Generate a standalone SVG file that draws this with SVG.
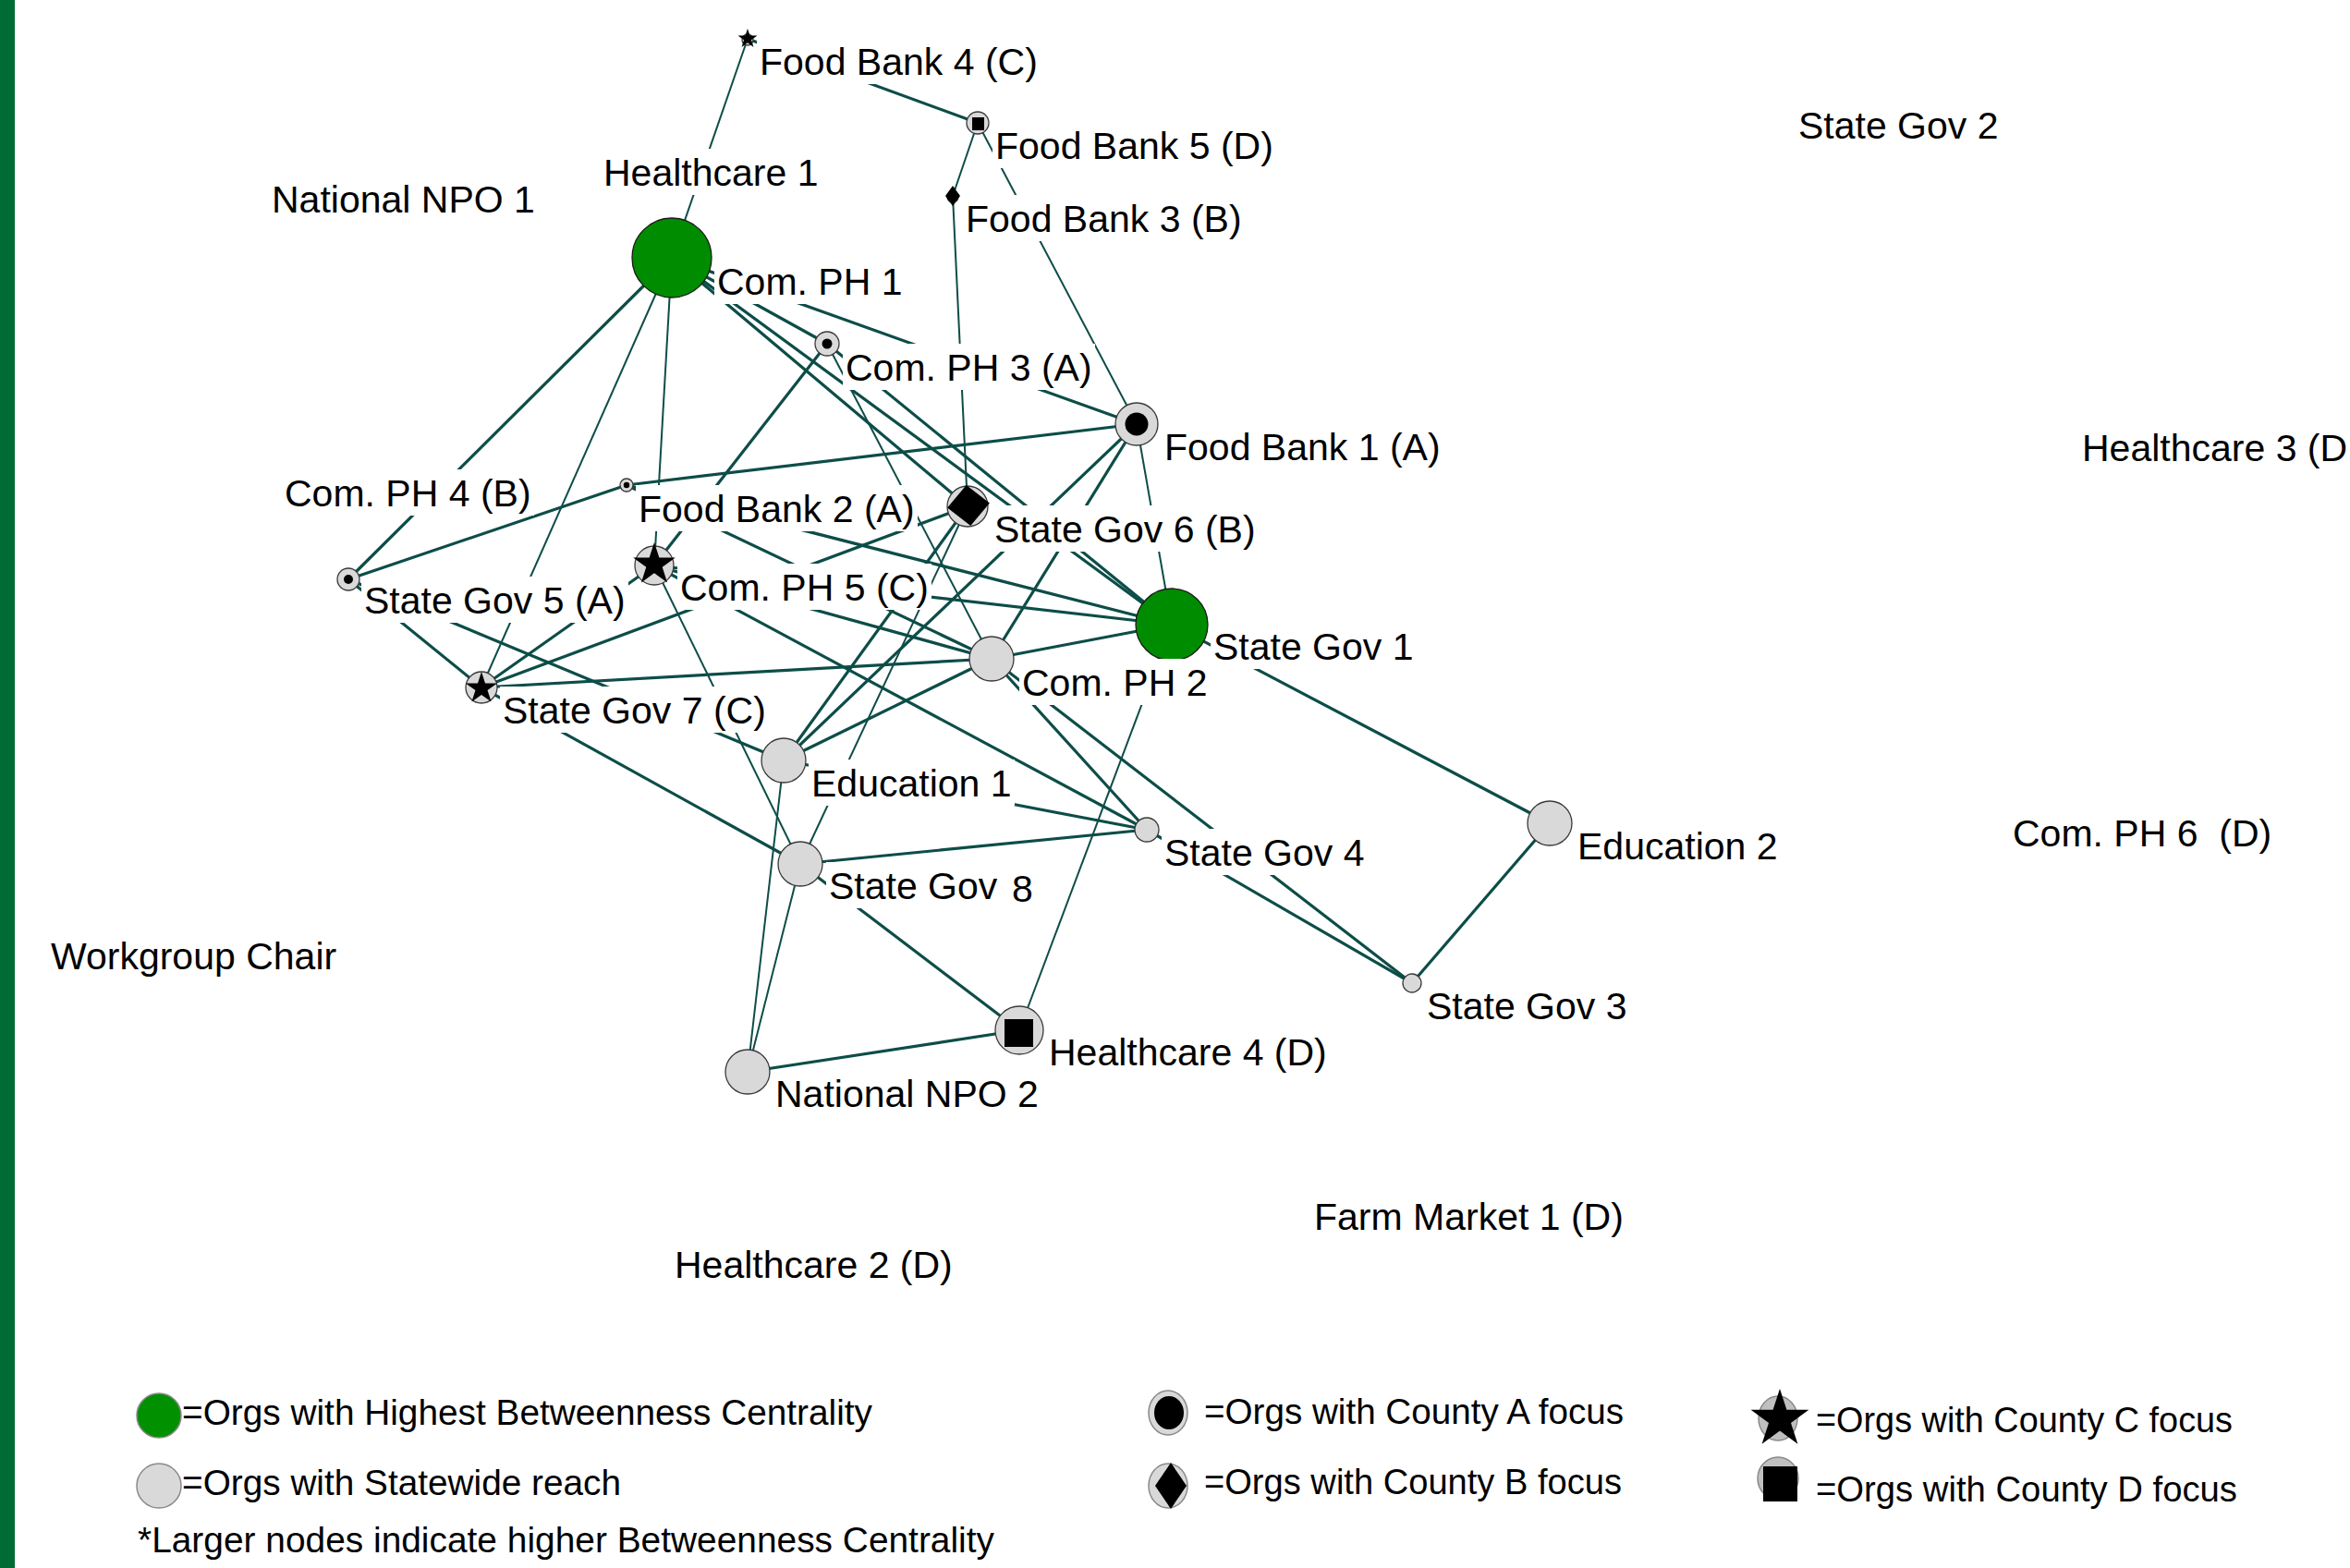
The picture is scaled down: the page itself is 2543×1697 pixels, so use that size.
<svg xmlns="http://www.w3.org/2000/svg" xmlns:xlink="http://www.w3.org/1999/xlink" width="2543" height="1697" viewBox="0 0 2543 1697">
<style>
.e{stroke:#0d4d48;stroke-width:3.2;fill:none;stroke-linecap:butt}
.n{stroke-width:2}
.lb{fill:#ffffff}
.t{font-family:"Liberation Sans",Arial,sans-serif;font-size:41px;fill:#000}
.g{fill:#d9d9d9;stroke:#3a3a3a;stroke-width:1.3}
.gr{fill:#008c00;stroke:#1a1a1a;stroke-width:1.3}
.k{fill:#000}
.lg{font-family:"Liberation Sans Narrow","Liberation Sans",Arial,sans-serif;font-size:38px;fill:#000}
.lgc{stroke:#8a8a8a;stroke-width:1.5}
</style>
<defs>
<path id="star" d="M0,-1 L0.2245,-0.309 L0.9511,-0.309 L0.3633,0.118 L0.5878,0.809 L0,0.382 L-0.5878,0.809 L-0.3633,0.118 L-0.9511,-0.309 L-0.2245,-0.309 Z"/>
<path id="dia" d="M0,-1 L1,0 L0,1 L-1,0 Z"/>
</defs>
<rect x="0" y="0" width="2543" height="1697" fill="#ffffff"/>
<rect x="0" y="0" width="16" height="1697" fill="#006b35"/>

<g id="connectors">
<line class="e n" x1="809" y1="42" x2="727" y2="279"/>
<line class="e" x1="809" y1="42" x2="1058" y2="133"/>
<line class="e n" x1="1058" y1="133" x2="1031" y2="212"/>
<line class="e n" x1="1058" y1="133" x2="1230" y2="459"/>
<line class="e n" x1="1031" y1="212" x2="1047" y2="548"/>
<line class="e" x1="727" y1="279" x2="1230" y2="459"/>
<line class="e" x1="727" y1="279" x2="895" y2="372"/>
<line class="e" x1="727" y1="279" x2="1047" y2="548"/>
<line class="e" x1="727" y1="279" x2="1268" y2="676"/>
<line class="e n" x1="727" y1="279" x2="708" y2="612"/>
<line class="e n" x1="727" y1="279" x2="521" y2="744"/>
<line class="e" x1="727" y1="279" x2="377" y2="627"/>
<line class="e" x1="895" y1="372" x2="1268" y2="676"/>
<line class="e n" x1="895" y1="372" x2="1073" y2="713"/>
<line class="e" x1="895" y1="372" x2="708" y2="612"/>
<line class="e" x1="678" y1="525" x2="1230" y2="459"/>
<line class="e" x1="678" y1="525" x2="377" y2="627"/>
<line class="e" x1="678" y1="525" x2="1073" y2="713"/>
<line class="e" x1="678" y1="525" x2="1268" y2="676"/>
<line class="e" x1="377" y1="627" x2="521" y2="744"/>
<line class="e" x1="377" y1="627" x2="848" y2="823"/>
<line class="e" x1="521" y1="744" x2="708" y2="612"/>
<line class="e" x1="521" y1="744" x2="1047" y2="548"/>
<line class="e" x1="521" y1="744" x2="1073" y2="713"/>
<line class="e" x1="521" y1="744" x2="866" y2="935"/>
<line class="e n" x1="708" y1="612" x2="866" y2="935"/>
<line class="e" x1="708" y1="612" x2="1268" y2="676"/>
<line class="e" x1="708" y1="612" x2="1073" y2="713"/>
<line class="e" x1="708" y1="612" x2="1241" y2="898"/>
<line class="e" x1="848" y1="823" x2="1047" y2="548"/>
<line class="e" x1="848" y1="823" x2="1230" y2="459"/>
<line class="e" x1="848" y1="823" x2="1073" y2="713"/>
<line class="e" x1="848" y1="823" x2="1241" y2="898"/>
<line class="e n" x1="848" y1="823" x2="809" y2="1160"/>
<line class="e n" x1="1047" y1="548" x2="866" y2="935"/>
<line class="e" x1="1230" y1="459" x2="1073" y2="713"/>
<line class="e n" x1="1230" y1="459" x2="1268" y2="676"/>
<line class="e" x1="1073" y1="713" x2="1268" y2="676"/>
<line class="e" x1="1073" y1="713" x2="1241" y2="898"/>
<line class="e" x1="1073" y1="713" x2="1528" y2="1064"/>
<line class="e n" x1="1268" y1="676" x2="1103" y2="1115"/>
<line class="e" x1="1268" y1="676" x2="1677" y2="891"/>
<line class="e" x1="866" y1="935" x2="1241" y2="898"/>
<line class="e n" x1="866" y1="935" x2="809" y2="1160"/>
<line class="e" x1="866" y1="935" x2="1103" y2="1115"/>
<line class="e" x1="1103" y1="1115" x2="809" y2="1160"/>
<line class="e" x1="1241" y1="898" x2="1528" y2="1064"/>
<line class="e" x1="1528" y1="1064" x2="1677" y2="891"/>
</g>

<g id="node-food-bank-4">
<rect class="lb" x="819" y="41" width="307" height="50"/>
<text class="t" x="822" y="81">Food Bank 4 (C)</text>
<circle class="g" cx="809" cy="43" r="6"/>
<use xlink:href="#star" href="#star" class="k" transform="translate(809,42) scale(11)"/>
</g>
<g id="node-food-bank-5">
<rect class="lb" x="1074" y="132" width="307" height="50"/>
<text class="t" x="1077" y="172">Food Bank 5 (D)</text>
<circle class="g" cx="1058" cy="133" r="12"/>
<rect class="k" x="1052" y="127" width="13" height="14"/>
</g>
<g id="node-food-bank-3">
<rect class="lb" x="1042" y="211" width="305" height="50"/>
<text class="t" x="1045" y="251">Food Bank 3 (B)</text>
<circle class="g" cx="1031" cy="213" r="6"/>
<use xlink:href="#dia" href="#dia" class="k" transform="translate(1031,212) scale(8,11)"/>
</g>
<g id="node-healthcare-1">
<rect class="lb" x="650" y="161" width="238" height="50"/>
<text class="t" x="653" y="201">Healthcare 1</text>
</g>
<g id="node-national-npo-1">
<text class="t" x="294" y="230">National NPO 1</text>
</g>
<g id="node-state-gov-2">
<text class="t" x="1946" y="150">State Gov 2</text>
</g>
<g id="node-healthcare-3">
<text class="t" x="2253" y="499">Healthcare 3 (D</text>
</g>
<g id="node-com-ph-6">
<text class="t" x="2178" y="916" style="white-space:pre" xml:space="preserve">Com. PH 6  (D)</text>
</g>
<g id="node-workgroup-chair">
<text class="t" x="55" y="1049">Workgroup Chair</text>
</g>
<g id="node-farm-market-1">
<text class="t" x="1422" y="1331">Farm Market 1 (D)</text>
</g>
<g id="node-healthcare-2">
<text class="t" x="730" y="1383">Healthcare 2 (D)</text>
</g>

<g id="node-com-ph-1">
<rect class="lb" x="773" y="279" width="206" height="50"/>
<text class="t" x="776" y="319">Com. PH 1</text>
<circle class="gr" cx="727" cy="279" r="43"/>
</g>
<g id="node-com-ph-3">
<rect class="lb" x="912" y="372" width="273" height="50"/>
<text class="t" x="915" y="412">Com. PH 3 (A)</text>
<circle class="g" cx="895" cy="372" r="13"/>
<circle class="k" cx="895" cy="372" r="5.5"/>
</g>
<g id="node-food-bank-1">
<rect class="lb" x="1257" y="458" width="305" height="50"/>
<text class="t" x="1260" y="498">Food Bank 1 (A)</text>
<circle class="g" cx="1230" cy="459" r="23"/>
<circle class="k" cx="1230" cy="459" r="12.5"/>
</g>
<g id="node-com-ph-4">
<rect class="lb" x="305" y="508" width="273" height="50"/>
<text class="t" x="308" y="548">Com. PH 4 (B)</text>
</g>
<g id="node-food-bank-2">
<rect class="lb" x="688" y="525" width="305" height="50"/>
<text class="t" x="691" y="565">Food Bank 2 (A)</text>
<circle class="g" cx="678" cy="525" r="7"/>
<circle class="k" cx="678" cy="525" r="3.2"/>
</g>
<g id="node-state-gov-6">
<rect class="lb" x="1073" y="547" width="289" height="50"/>
<text class="t" x="1076" y="587">State Gov 6 (B)</text>
<circle class="g" cx="1047" cy="548" r="22"/>
<use xlink:href="#dia" href="#dia" class="k" transform="translate(1048,547) rotate(-6) scale(23,22)"/>
</g>
<g id="node-com-ph-5">
<rect class="lb" x="733" y="610" width="275" height="50"/>
<text class="t" x="736" y="650">Com. PH 5 (C)</text>
<circle class="g" cx="708" cy="612" r="21"/>
<use xlink:href="#star" href="#star" class="k" transform="translate(708,611) scale(24)"/>
</g>
<g id="node-state-gov-5">
<rect class="lb" x="391" y="624" width="289" height="50"/>
<text class="t" x="394" y="664">State Gov 5 (A)</text>
<circle class="g" cx="377" cy="627" r="12"/>
<circle class="k" cx="377" cy="627" r="5"/>
</g>
<g id="node-state-gov-1">
<rect class="lb" x="1310" y="674" width="223" height="50"/>
<text class="t" x="1313" y="714">State Gov 1</text>
<circle class="gr" cx="1268" cy="676" r="39"/>
</g>
<g id="node-com-ph-2">
<rect class="lb" x="1103" y="713" width="206" height="50"/>
<text class="t" x="1106" y="753">Com. PH 2</text>
<circle class="g" cx="1073" cy="713" r="24"/>
</g>
<g id="node-state-gov-7">
<rect class="lb" x="541" y="743" width="291" height="50"/>
<text class="t" x="544" y="783">State Gov 7 (C)</text>
<circle class="g" cx="521" cy="744" r="17"/>
<use xlink:href="#star" href="#star" class="k" transform="translate(521,745) scale(18)"/>
</g>
<g id="node-education-1">
<rect class="lb" x="875" y="822" width="223" height="50"/>
<text class="t" x="878" y="862">Education 1</text>
<circle class="g" cx="848" cy="823" r="24"/>
</g>
<g id="node-state-gov-4">
<rect class="lb" x="1257" y="897" width="223" height="50"/>
<text class="t" x="1260" y="937">State Gov 4</text>
<circle class="g" cx="1241" cy="898" r="13"/>
</g>
<g id="node-education-2">
<rect class="lb" x="1704" y="890" width="223" height="50"/>
<text class="t" x="1707" y="930">Education 2</text>
<circle class="g" cx="1677" cy="891" r="24"/>
</g>
<g id="node-state-gov-8">
<rect class="lb" x="894" y="933" width="230" height="50"/>
<text class="t" x="897" y="973">State Gov</text>
<text class="t" x="1095" y="976">8</text>
<circle class="g" cx="866" cy="935" r="24"/>
</g>
<g id="node-state-gov-3">
<rect class="lb" x="1541" y="1063" width="223" height="50"/>
<text class="t" x="1544" y="1103">State Gov 3</text>
<circle class="g" cx="1528" cy="1064" r="10"/>
</g>
<g id="node-healthcare-4">
<rect class="lb" x="1132" y="1113" width="307" height="50"/>
<text class="t" x="1135" y="1153">Healthcare 4 (D)</text>
<circle class="g" cx="1103" cy="1115" r="26"/>
<rect class="k" x="1087" y="1103" width="31" height="30"/>
</g>
<g id="node-national-npo-2">
<rect class="lb" x="836" y="1158" width="291" height="50"/>
<text class="t" x="839" y="1198">National NPO 2</text>
<circle class="g" cx="809" cy="1160" r="24"/>
</g>

<g id="legend">
<circle class="lgc" cx="172" cy="1532" r="24" fill="#009000"/>
<text class="lg" x="197" y="1542" textLength="747" lengthAdjust="spacingAndGlyphs">=Orgs with Highest Betweenness Centrality</text>
<circle class="lgc" cx="172" cy="1608" r="24" fill="#d9d9d9"/>
<text class="lg" x="197" y="1618" textLength="475" lengthAdjust="spacingAndGlyphs">=Orgs with Statewide reach</text>
<text class="lg" x="149" y="1680" textLength="927" lengthAdjust="spacingAndGlyphs">*Larger nodes indicate higher Betweenness Centrality</text>

<ellipse class="lgc" cx="1264" cy="1529" rx="21" ry="24" fill="#d9d9d9"/>
<ellipse cx="1265" cy="1529" rx="16" ry="18" fill="#000"/>
<text class="lg" x="1303" y="1541" textLength="454" lengthAdjust="spacingAndGlyphs">=Orgs with County A focus</text>
<ellipse class="lgc" cx="1264" cy="1608" rx="21" ry="24" fill="#d9d9d9"/>
<use xlink:href="#dia" href="#dia" class="k" transform="translate(1267,1608) scale(17,25)"/>
<text class="lg" x="1303" y="1617" textLength="452" lengthAdjust="spacingAndGlyphs">=Orgs with County B focus</text>

<ellipse class="lgc" cx="1924" cy="1535" rx="21" ry="24" fill="#c0c0c0"/>
<use xlink:href="#star" href="#star" class="k" transform="translate(1926,1536) scale(33)"/>
<text class="lg" x="1965" y="1550" textLength="451" lengthAdjust="spacingAndGlyphs">=Orgs with County C focus</text>
<ellipse class="lgc" cx="1924" cy="1600" rx="22" ry="23" fill="#c0c0c0"/>
<rect x="1908" y="1587" width="37" height="38" fill="#000"/>
<text class="lg" x="1965" y="1625" textLength="456" lengthAdjust="spacingAndGlyphs">=Orgs with County D focus</text>
</g>
</svg>
